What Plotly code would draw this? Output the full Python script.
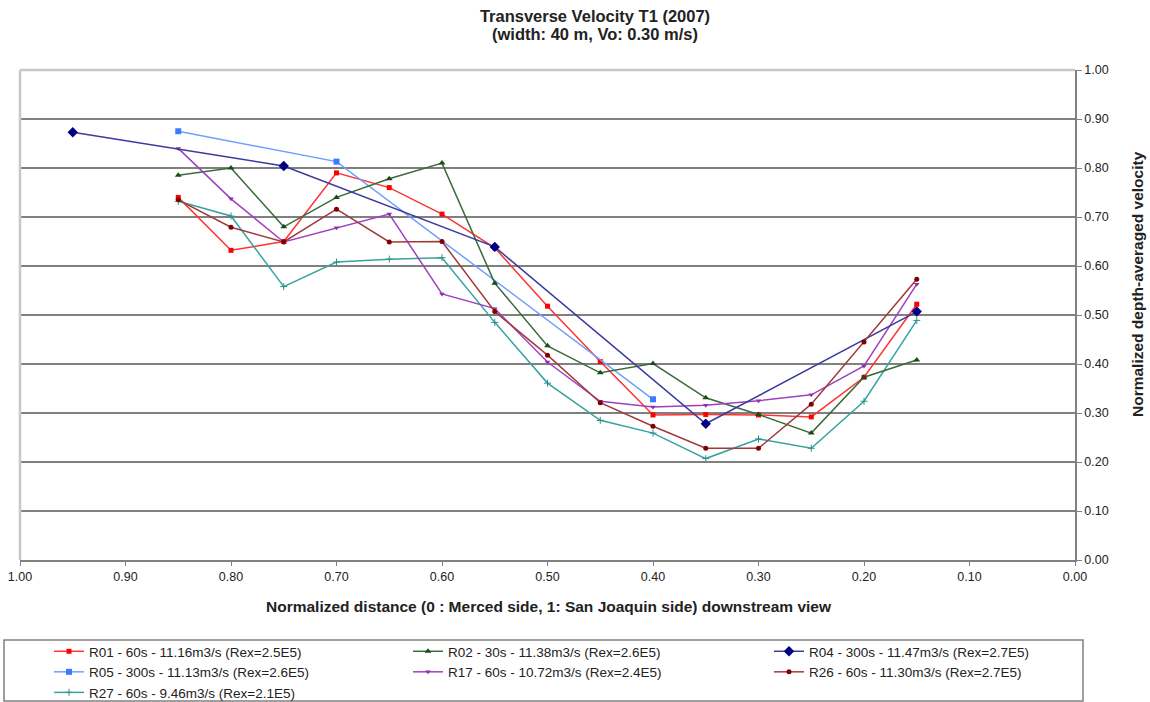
import plotly.graph_objects as go

# ---- data ----
x_full = [0.85, 0.80, 0.75, 0.70, 0.65, 0.60, 0.55, 0.50, 0.45, 0.40, 0.35, 0.30, 0.25, 0.20, 0.15]

r01_y = [0.740, 0.632, 0.650, 0.790, 0.760, 0.706, 0.637, 0.518, 0.405, 0.296, 0.297, 0.296, 0.292, 0.373, 0.522]
r02_y = [0.785, 0.800, 0.680, 0.740, 0.778, 0.810, 0.565, 0.437, 0.382, 0.401, 0.331, 0.297, 0.259, 0.373, 0.408]
r04_x = [0.95, 0.75, 0.55, 0.35, 0.15]
r04_y = [0.873, 0.804, 0.639, 0.278, 0.507]
r05_x = [0.85, 0.70, 0.40]
r05_y = [0.875, 0.813, 0.328]
r17_y = [0.840, 0.737, 0.649, 0.678, 0.706, 0.543, 0.513, 0.404, 0.324, 0.312, 0.316, 0.325, 0.337, 0.396, 0.563]
r26_y = [0.735, 0.679, 0.649, 0.716, 0.649, 0.650, 0.507, 0.418, 0.321, 0.273, 0.228, 0.228, 0.318, 0.445, 0.573]
r27_y = [0.732, 0.702, 0.558, 0.608, 0.614, 0.617, 0.485, 0.361, 0.285, 0.259, 0.207, 0.247, 0.228, 0.324, 0.489]

names = {
    "R01": "R01 - 60s - 11.16m3/s (Rex=2.5E5)",
    "R02": "R02 - 30s - 11.38m3/s (Rex=2.6E5)",
    "R04": "R04 - 300s - 11.47m3/s (Rex=2.7E5)",
    "R05": "R05 - 300s - 11.13m3/s (Rex=2.6E5)",
    "R17": "R17 - 60s - 10.72m3/s (Rex=2.4E5)",
    "R26": "R26 - 60s - 11.30m3/s (Rex=2.7E5)",
    "R27": "R27 - 60s - 9.46m3/s (Rex=2.1E5)",
}

x_ticks = [1.0, 0.9, 0.8, 0.7, 0.6, 0.5, 0.4, 0.3, 0.2, 0.1, 0.0]
y_ticks = [0.0, 0.1, 0.2, 0.3, 0.4, 0.5, 0.6, 0.7, 0.8, 0.9, 1.0]

title_line1 = "Transverse Velocity T1 (2007)"
title_line2 = "(width: 40 m, Vo: 0.30 m/s)"
x_title = "Normalized distance (0 : Merced side, 1: San Joaquin side) downstream view"
y_title = "Normalized depth-averaged velocity"

FONT = "Arial, 'Liberation Sans', sans-serif"

series = [
    # key, x, y, line color, marker color, symbol, size, legend
    ("R01", x_full, r01_y, "#ff3333", "#ff0000", "square", 5, "legend"),
    ("R05", r05_x, r05_y, "#6f9fff", "#3a7bff", "square", 6, "legend"),
    ("R27", x_full, r27_y, "#36a3a0", "#2a8f8c", "cross-thin", 5, "legend"),
    ("R02", x_full, r02_y, "#3a6a3a", "#1a4a1a", "triangle-up", 6, "legend2"),
    ("R17", x_full, r17_y, "#a040c0", "#9030b0", "triangle-down", 5, "legend2"),
    ("R04", r04_x, r04_y, "#3a3aa0", "#000080", "diamond", 8, "legend3"),
    ("R26", x_full, r26_y, "#a03a3a", "#800000", "circle", 5, "legend3"),
]

fig = go.Figure()
for key, xs, ys, lc, mc, sym, sz, lg in series:
    fig.add_trace(go.Scatter(
        x=xs, y=ys, mode="lines+markers", name=names[key],
        legend=lg,
        line=dict(color=lc, width=1.5),
        marker=dict(color=mc, symbol=sym, size=sz,
                    line=dict(color=mc, width=1 if sym == "cross-thin" else 0)),
    ))

W, H = 1150, 702
L, R, T, B = 20, 75, 70, 142
pw, ph = W - L - R, H - T - B

def px_x(p):
    return (p - L) / pw

def px_y(p):
    return (H - B - p) / ph

legend_common = dict(
    orientation="v", yanchor="top", xanchor="left",
    font=dict(family=FONT, size=13.5, color="#222"),
    bgcolor="rgba(0,0,0,0)", borderwidth=0,
    itemclick=False, itemdoubleclick=False,
)

fig.update_layout(
    width=W, height=H,
    margin=dict(l=L, r=R, t=T, b=B, autoexpand=False),
    paper_bgcolor="white", plot_bgcolor="white",
    font=dict(family=FONT, color="#222"),
    title=dict(
        text="<b>" + title_line1 + "</b>",
        x=595 / W, xref="container", xanchor="center",
        y=1 - 16 / H, yref="container", yanchor="middle",
        font=dict(family=FONT, size=16.5, color="#222"),
    ),
    xaxis=dict(
        range=[1.0, 0.0], tickvals=x_ticks, tickformat=".2f",
        showgrid=False, zeroline=False,
        showline=True, linecolor="#808080", linewidth=1.5,
        ticks="outside", ticklen=4, tickcolor="#808080",
        tickfont=dict(family=FONT, size=12.5, color="#222"),
    ),
    yaxis=dict(
        range=[0.0, 1.0], tickvals=y_ticks, tickformat=".2f", side="right",
        showgrid=True, gridcolor="#808080", gridwidth=2,
        zeroline=False,
        showline=True, linecolor="#808080", linewidth=1.5,
        ticks="outside", ticklen=5, tickcolor="#808080",
        tickfont=dict(family=FONT, size=12.5, color="#222"),
    ),
    legend=dict(x=px_x(49), y=px_y(636), **legend_common),
    legend2=dict(x=px_x(408), y=px_y(636), **legend_common),
    legend3=dict(x=px_x(769), y=px_y(636), **legend_common),
    showlegend=True,
)

# plot frame (top and left) and legend frame
fig.add_shape(type="line", xref="paper", yref="paper", x0=0, x1=1, y0=1, y1=1,
              line=dict(color="#c8c8c8", width=2.5))
fig.add_shape(type="line", xref="paper", yref="paper", x0=0, x1=0, y0=0, y1=1,
              line=dict(color="#c8c8c8", width=2.5))
fig.add_shape(type="rect", xref="paper", yref="paper",
              x0=px_x(4), x1=px_x(1083), y0=px_y(701), y1=px_y(640),
              line=dict(color="#808080", width=1.5))

# title second line and axis titles
fig.add_annotation(
    text="<b>" + title_line2 + "</b>",
    xref="paper", yref="paper", x=px_x(595), y=px_y(34),
    xanchor="center", yanchor="middle", showarrow=False,
    font=dict(family=FONT, size=16.5, color="#222"),
)
fig.add_annotation(
    text="<b>" + x_title + "</b>",
    xref="paper", yref="paper", x=px_x(549), y=px_y(606),
    xanchor="center", yanchor="middle", showarrow=False,
    font=dict(family=FONT, size=15.5, color="#222"),
)
fig.add_annotation(
    text="<b>" + y_title + "</b>",
    xref="paper", yref="paper", x=px_x(1137), y=px_y(284),
    xanchor="center", yanchor="middle", showarrow=False, textangle=-90,
    font=dict(family=FONT, size=15.5, color="#222"),
)

fig.write_html("out.html", config={"displayModeBar": False},
               post_script="document.body.style.margin='0';")
